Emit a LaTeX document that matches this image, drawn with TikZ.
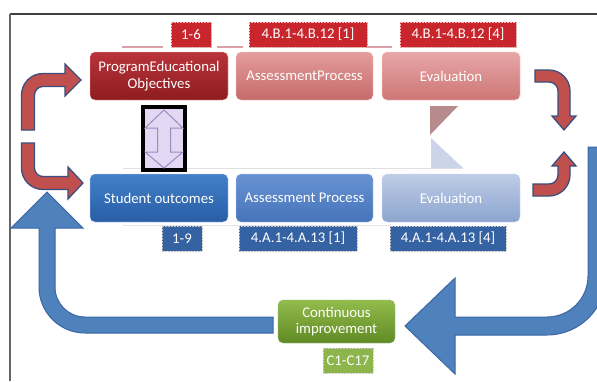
\documentclass[tikz,border=0pt]{standalone}
\usepackage{fontspec}
\setmainfont{Carlito}
\usetikzlibrary{shadows}
\definecolor{redfill}{HTML}{C0504D}
\definecolor{redline}{HTML}{3B4F7E}
\definecolor{bluefill}{HTML}{4F81BD}
\definecolor{blueline}{HTML}{3A67A3}
\definecolor{framegray}{HTML}{404040}
\definecolor{pinkline}{HTML}{D9A0A8}
\definecolor{triA}{HTML}{B78A8C}
\definecolor{triB}{HTML}{CCD4EA}
\definecolor{lav}{HTML}{E2D8F3}
\definecolor{lavline}{HTML}{9A8CC0}
\tikzset{
  txt/.style={text=white,font=\fontsize{14.8bp}{16.5bp}\selectfont,align=center,inner sep=0pt},
  bigbox/.style={txt,rounded corners=5bp,minimum width=138bp,minimum height=48bp,draw=#1,line width=0.6bp,densely dotted},
  lbl/.style={txt,minimum height=25bp,draw=#1,line width=0.5bp,densely dotted},
  redarrow/.style={fill=redfill,draw=redline,line width=1.3bp,line join=miter},
  bluearrow/.style={fill=bluefill,draw=blueline,line width=1bp,line join=miter},
  lblshadow/.style={drop shadow={shadow xshift=1.2bp,shadow yshift=-1.2bp,fill=black!55,opacity=0.6}}
}
\begin{document}
\begin{tikzpicture}[x=1bp,y=-1bp]
\useasboundingbox (0,0) rectangle (597,381);
\fill[white] (0,0) rectangle (597,381);
% frame
\draw[framegray,line width=1.3bp] (10,14) -- (597,14);
\draw[framegray,line width=1.8bp] (10,14) -- (120,14);
\draw[framegray!80,line width=1.1bp] (10,14) -- (10,381);
% faint guide lines
\draw[pinkline,line width=2.5bp] (122,47) -- (163,47);
\draw[pinkline,line width=2.5bp] (217,47) -- (243,47);
\draw[pinkline,line width=2.5bp] (368,47) -- (392,47);
\draw[black!12,line width=1bp] (123,168) -- (463,168);
\draw[black!10,line width=1bp] (123,225) -- (390,225);
% triangles
\fill[triA] (430,106) -- (458,106) -- (430,135) -- cycle;
\fill[triB] (431,138) -- (431,168) -- (463,168) -- cycle;
% big blue arrows
\draw[bluearrow] (588,147) -- (606,147) -- (606,276) arc[start angle=0,end angle=90,radius=59]
  -- (455,335) -- (455,374) -- (405,326) -- (455,278) -- (455,317) -- (547,317)
  arc[start angle=90,end angle=0,radius=41] -- cycle;
\draw[bluearrow] (273,317) -- (85,317) arc[start angle=90,end angle=180,radius=30]
  -- (55,228) -- (83,228) -- (47,192) -- (11,228) -- (39,228) -- (39,287)
  arc[start angle=180,end angle=90,radius=46] -- (273,333) -- cycle;
% red arrows
\draw[redarrow] (21.5,130) -- (21.5,95) arc[start angle=180,end angle=270,radius=21.5]
  -- (65,73.5) -- (65,64) -- (81,80) -- (65,96) -- (65,86.5) -- (43,86.5)
  arc[start angle=270,end angle=180,radius=8.5] -- (34.5,130) -- cycle;
\draw[redarrow] (21.5,143) -- (21.5,168) arc[start angle=180,end angle=90,radius=21.5]
  -- (68,189.5) -- (68,199) -- (83,183) -- (68,167) -- (68,176.5) -- (43,176.5)
  arc[start angle=90,end angle=180,radius=8.5] -- (34.5,143) -- cycle;
\draw[redarrow] (535,70) -- (549,70) arc[start angle=270,end angle=360,radius=21]
  -- (570,116) -- (576,116) -- (564,130) -- (552,116) -- (558,116) -- (558,91)
  arc[start angle=0,end angle=-90,radius=9] -- (535,82) -- cycle;
\draw[redarrow] (533,196) -- (549,196) arc[start angle=90,end angle=0,radius=21]
  -- (570,166) -- (576,166) -- (564,152) -- (552,166) -- (558,166) -- (558,175)
  arc[start angle=0,end angle=90,radius=9] -- (533,184) -- cycle;
% top row
\node[bigbox=red!30!white,
      top color={rgb,255:red,184;green,52;blue,58},bottom color={rgb,255:red,142;green,28;blue,32}]
  (peo) at (159,76) {ProgramEducational\\Objectives};
\node[bigbox=red!20!white,top color={rgb,255:red,228;green,156;blue,156},bottom color={rgb,255:red,199;green,106;blue,106},minimum width=137bp]
  (apt) at (304.5,76) {AssessmentProcess};
\node[bigbox=red!20!white,top color={rgb,255:red,232;green,166;blue,166},bottom color={rgb,255:red,205;green,118;blue,118}]
  (evt) at (451,76) {Evaluation};
% top labels
\node[lbl=red!30!white,lblshadow,fill={rgb,255:red,200;green,38;blue,44},minimum width=40bp] (l16) at (191,34.5) {1-6};
\node[lbl=red!30!white,lblshadow,fill={rgb,255:red,200;green,38;blue,44},minimum width=118bp] (lb1) at (308,34.5) {4.B.1-4.B.12 [1]};
\node[lbl=red!30!white,lblshadow,fill={rgb,255:red,200;green,38;blue,44},minimum width=116bp] (lb4) at (458,34.5) {4.B.1-4.B.12 [4]};
% bottom row
\node[bigbox=blue!20!white,top color={rgb,255:red,66;green,128;blue,200},bottom color={rgb,255:red,40;green,94;blue,166}]
  (so) at (159,198) {Student outcomes};
\node[bigbox=blue!20!white,top color={rgb,255:red,104;green,146;blue,210},bottom color={rgb,255:red,70;green,116;blue,186},minimum width=137bp]
  (apb) at (304.5,198) {Assessment Process};
\node[bigbox=blue!15!white,top color={rgb,255:red,190;green,204;blue,230},bottom color={rgb,255:red,140;green,164;blue,206}]
  (evb) at (451,198) {Evaluation};
% bottom labels
\node[lbl=black!25,fill={rgb,255:red,52;green,98;blue,162},minimum width=40bp] (l19) at (182,238.5) {1-9};
\node[lbl=black!25,fill={rgb,255:red,52;green,98;blue,162},minimum width=118bp] (la1) at (298,238.5) {4.A.1-4.A.13 [1]};
\node[lbl=black!25,fill={rgb,255:red,52;green,98;blue,162},minimum width=116bp] (la4) at (448,238.5) {4.A.1-4.A.13 [4]};
% green
\node[bigbox=green!30!black!40,top color={rgb,255:red,146;green,188;blue,76},bottom color={rgb,255:red,96;green,138;blue,36},minimum width=117bp,minimum height=43bp]
  (ci) at (336.5,321.5) {Continuous\\improvement};
\node[lbl=black!20,fill={rgb,255:red,141;green,181;blue,76},minimum width=50bp] (lc) at (348,360.5) {C1-C17};
% double arrow
\node[draw=black,line width=4bp,fill=lav,minimum width=42bp,minimum height=63bp,inner sep=0pt] (dbl) at (164,138.5) {};
\draw[lavline,line width=1bp,line join=miter]
  (164,110) -- (183,128) -- (170.5,128) -- (170.5,152) -- (183,152) -- (164,168)
  -- (145,152) -- (157.5,152) -- (157.5,128) -- (145,128) -- cycle;
\end{tikzpicture}
\end{document}
